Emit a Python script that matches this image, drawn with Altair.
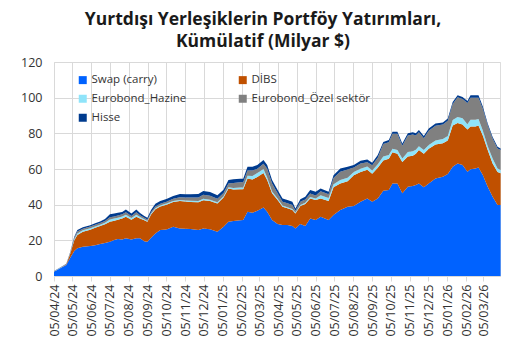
import altair as alt
import pandas as pd

# ---- data ----
# day offsets from 05/04/2024 of each reading
day_offsets = [0, 10, 20, 26, 33, 38, 47, 59, 67, 75, 83, 91, 98, 104, 111, 117, 126, 134, 140, 147,
               152, 158, 165, 173, 183, 194, 205, 214, 222, 235, 243, 254, 266, 276, 284, 292, 303, 308,
               315, 323, 331, 341, 347, 355, 364, 372, 380, 388, 393, 401, 409, 417, 426, 434, 447, 455,
               466, 478, 488, 499, 510, 518, 527, 536, 545, 551, 559, 567, 576, 584, 589, 594, 602, 610,
               621, 633, 641, 649, 657, 665, 673, 678, 686, 691, 698, 706, 714, 722, 727]

swap = [2.4, 4.3, 6.2, 10.0, 14.0, 15.5, 16.4, 16.8, 17.3, 18.0, 18.5, 19.2, 20.2, 20.7, 20.5, 21.1, 20.4,
        21.1, 21.1, 19.5, 19.2, 21.5, 23.9, 25.8, 26.1, 27.6, 26.7, 26.5, 26.3, 25.8, 26.7, 26.2, 24.8,
        27.6, 30.4, 30.9, 31.2, 31.4, 36.0, 35.5, 36.6, 38.4, 36.0, 31.4, 29.2, 28.6, 28.6, 28.0, 26.7,
        29.2, 28.0, 32.3, 31.4, 33.2, 31.4, 34.2, 37.0, 38.9, 39.2, 41.6, 43.5, 41.6, 43.5, 47.8, 48.2,
        51.9, 51.9, 46.4, 50.1, 50.4, 51.0, 51.9, 49.7, 51.9, 54.7, 55.6, 57.2, 61.2, 63.1, 62.2, 58.5,
        59.8, 60.3, 60.9, 56.6, 50.1, 44.5, 39.8, 39.8]

dibs = [0.1, 0.1, 0.2, 2.0, 6.0, 7.5, 8.4, 9.2, 9.7, 10.0, 10.5, 11.2, 10.8, 10.8, 11.8, 12.1, 11.1,
        12.1, 11.2, 11.7, 11.2, 13.0, 13.6, 13.2, 13.9, 13.9, 15.3, 15.3, 15.2, 15.5, 15.8, 15.8, 15.8,
        16.4, 18.6, 17.6, 17.4, 17.2, 18.7, 18.6, 18.9, 19.4, 17.8, 15.0, 13.4, 10.3, 9.4, 9.0, 8.4,
        10.0, 12.4, 11.2, 11.2, 10.2, 10.6, 15.5, 14.9, 14.3, 17.3, 16.7, 16.1, 15.7, 17.2, 17.0, 17.5,
        17.5, 16.6, 17.5, 16.9, 17.1, 17.5, 18.7, 18.8, 19.4, 19.0, 18.9, 18.8, 23.2, 22.7, 22.8, 23.6,
        24.1, 23.6, 23.5, 22.2, 20.5, 18.6, 18.5, 17.8]

eurobond_hazine = [0.1, 0.1, 0.1, 0.3, 0.6, 0.8, 0.8, 0.8, 0.8, 0.8, 0.9, 1.3, 1.2, 1.2, 1.1, 1.2, 1.0,
                   1.1, 0.8, 0.6, 0.5, 0.5, 0.5, 0.5, 0.6, 0.6, 0.6, 0.6, 0.7, 0.7, 0.8, 0.8, 0.7,
                   0.7, 0.8, 0.9, 1.0, 1.0, 1.5, 2.0, 2.2, 2.2, 1.5, 1.0, 0.8, 0.6, 0.6, 0.6, 0.5,
                   0.6, 0.7, 0.8, 0.8, 1.9, 1.8, 1.8, 1.9, 1.9, 1.8, 1.8, 1.8, 1.8, 2.0, 2.2, 2.2,
                   2.0, 2.2, 2.0, 2.5, 2.5, 2.3, 2.2, 2.2, 2.2, 2.3, 2.3, 2.5, 3.1, 3.4, 3.4, 3.0,
                   3.7, 3.7, 3.7, 2.8, 2.2, 2.8, 2.0, 1.8]

eurobond_ozel = [0.1, 0.1, 0.2, 0.4, 0.8, 1.2, 0.9, 0.9, 0.9, 0.9, 1.0, 1.2, 1.2, 1.2, 1.2, 1.3, 1.2,
                 1.4, 1.0, 0.9, 0.8, 0.8, 1.0, 1.0, 1.1, 1.2, 1.6, 1.6, 1.8, 2.0, 2.2, 2.2, 2.0,
                 1.8, 2.0, 2.8, 3.0, 3.0, 3.0, 3.1, 2.5, 3.0, 4.9, 4.4, 3.0, 2.2, 2.2, 2.2, 1.0,
                 1.8, 1.8, 2.0, 1.8, 2.2, 2.0, 3.5, 4.6, 4.6, 2.6, 3.0, 2.4, 3.0, 3.6, 7.0, 7.1,
                 8.3, 9.0, 7.2, 9.3, 9.4, 8.0, 7.8, 6.6, 8.0, 8.3, 8.1, 8.6, 8.9, 11.0, 10.8, 11.9,
                 12.3, 12.3, 11.8, 12.2, 11.7, 11.1, 11.2, 11.2]

hisse = [0.1, 0.1, 0.1, 0.3, 0.6, 0.8, 0.8, 0.8, 0.9, 0.9, 1.0, 1.7, 1.6, 1.5, 1.3, 1.6, 1.4,
         1.6, 1.2, 1.0, 1.0, 1.2, 1.5, 1.5, 1.5, 1.6, 1.8, 1.8, 1.9, 2.0, 2.1, 2.1, 2.0,
         1.8, 2.0, 2.0, 2.0, 2.0, 2.0, 2.0, 2.0, 2.0, 2.0, 2.0, 1.8, 1.8, 1.8, 1.8, 1.3,
         1.4, 1.5, 1.9, 2.1, 1.6, 1.4, 1.5, 1.9, 1.5, 1.3, 1.5, 1.5, 1.4, 1.5, 1.2, 1.2,
         1.2, 1.2, 1.2, 1.2, 1.2, 1.2, 1.2, 1.2, 1.2, 1.2, 1.2, 1.2, 1.2, 1.2, 1.2, 1.2,
         1.5, 1.5, 1.5, 1.2, 1.0, 1.0, 1.0, 0.9]

series_names = ["Swap (carry)", "DİBS", "Eurobond_Hazine", "Eurobond_Özel sektör", "Hisse"]
series_colors = ["#0062FF", "#C05000", "#8FE4FA", "#808080", "#003B8E"]

tick_dates = ["2024-04-05", "2024-05-05", "2024-06-05", "2024-07-05", "2024-08-05", "2024-09-05",
              "2024-10-05", "2024-11-05", "2024-12-05", "2025-01-05", "2025-02-05", "2025-03-05",
              "2025-04-05", "2025-05-05", "2025-06-05", "2025-07-05", "2025-08-05", "2025-09-05",
              "2025-10-05", "2025-11-05", "2025-12-05", "2026-01-05", "2026-02-05", "2026-03-05"]
y_ticks = [0, 20, 40, 60, 80, 100, 120]

title_lines = ["Yurtdışı Yerleşiklerin Portföy Yatırımları,", "Kümülatif (Milyar $)"]

# ---- build table ----
dates = pd.Timestamp("2024-04-05") + pd.to_timedelta(day_offsets, unit="D")
rows = []
for k, (name, vals) in enumerate(zip(series_names, [swap, dibs, eurobond_hazine, eurobond_ozel, hisse])):
    for d, v in zip(dates, vals):
        rows.append({"date": d, "series": name, "value": v, "ord": k})
df = pd.DataFrame(rows)


def dt(s):
    return alt.DateTime(year=int(s[:4]), month=int(s[5:7]), date=int(s[8:10]))


FONT = "Open Sans"
GRID = "#D9D9D9"
LABEL = "#333333"

chart = alt.Chart(df).mark_area(interpolate="linear").encode(
    x=alt.X(
        "date:T",
        scale=alt.Scale(domain=[dt("2024-04-05"), dt("2026-04-01")], nice=False),
        axis=alt.Axis(
            values=[dt(s) for s in tick_dates], format="%d/%m/%y", labelAngle=270, title=None,
            grid=True, gridColor=GRID, domainColor=GRID, tickColor=GRID, tickSize=5,
            labelPadding=3, labelFontSize=12.5, labelColor=LABEL, labelFont=FONT,
            labelOverlap=False,
        ),
    ),
    y=alt.Y(
        "value:Q", stack="zero",
        scale=alt.Scale(domain=[0, 120], nice=False),
        axis=alt.Axis(
            values=y_ticks, title=None, domain=False, ticks=False, labelPadding=12,
            gridColor=GRID, labelFontSize=12.5, labelColor=LABEL, labelFont=FONT,
        ),
    ),
    color=alt.Color(
        "series:N",
        scale=alt.Scale(domain=series_names, range=series_colors),
        sort=series_names,
        legend=alt.Legend(
            title=None, orient="none", legendX=23, legendY=12, columns=2, direction="horizontal",
            symbolType="square", symbolSize=64, symbolStrokeWidth=0,
            labelFontSize=11.5, labelFont=FONT, labelColor=LABEL,
            columnPadding=50, rowPadding=6, labelOffset=3,
        ),
    ),
    order=alt.Order("ord:Q", sort="ascending"),
).properties(
    width=446,
    height=214,
    title=alt.TitleParams(
        text=title_lines, font=FONT, fontSize=17.5, fontWeight="bold", color="#1A1A1A",
        anchor="middle", offset=6, lineHeight=22, dx=-14,
    ),
    autosize=alt.AutoSizeParams(type="none"),
    padding={"left": 54, "top": 62, "right": 9, "bottom": 78},
).configure_view(stroke=None).configure(background="white")

chart.save("out.html", embed_options={"renderer": "svg", "actions": False})
